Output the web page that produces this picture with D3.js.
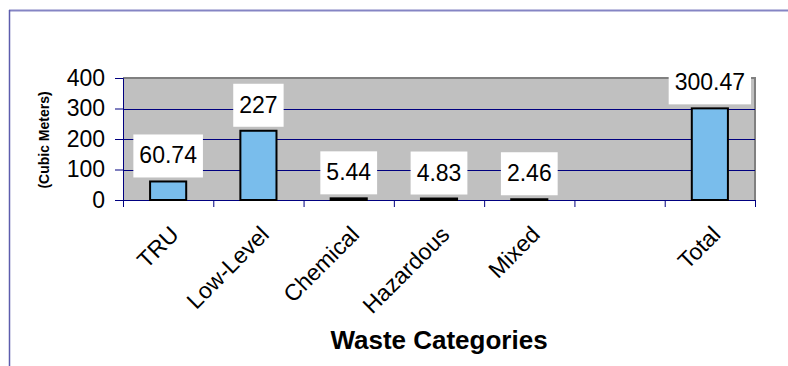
<!DOCTYPE html>
<html>
<head>
<meta charset="utf-8">
<script src="https://cdn.jsdelivr.net/npm/d3@7/dist/d3.min.js"></script>
<style>
  body { margin: 0; background: #fff; }
  svg { display: block; font-family: "Liberation Sans", Arial, sans-serif; }
</style>
</head>
<body>
<svg id="chart" width="788" height="366"></svg>
<script>
// data
const categories = ["TRU", "Low-Level", "Chemical", "Hazardous", "Mixed", "", "Total"];
const volumes = [60.74, 227, 5.44, 4.83, 2.46, null, 300.47];
const valueLabels = ["60.74", "227", "5.44", "4.83", "2.46", "", "300.47"];
const yTicks = [0, 100, 200, 300, 400];

const pl = 123, pr = 755, pt = 78, pb = 200;

const svg = d3.select("#chart");

// scales
const xScale = d3.scaleBand().domain(d3.range(categories.length)).range([pl, pr]).padding(0);
const xEdge = d3.scaleLinear().domain([0, categories.length]).range([pl, pr]);
const yScale = d3.scaleLinear().domain([0, 400]).range([pb, pt]);

// outer chart border (only top + left visible)
svg.append("line").attr("x1", 9).attr("x2", 788).attr("y1", 10.5).attr("y2", 10.5)
  .attr("stroke", "#8585c4").attr("stroke-width", 2);
svg.append("line").attr("x1", 9.5).attr("x2", 9.5).attr("y1", 10).attr("y2", 366)
  .attr("stroke", "#5c5cad").attr("stroke-width", 1.5);

// plot area
svg.append("rect").attr("x", pl).attr("y", pt).attr("width", pr - pl).attr("height", pb - pt)
  .attr("fill", "#c0c0c0");
svg.append("path").attr("d", `M${pl},${pt}H${pr}V${pb}`)
  .attr("fill", "none").attr("stroke", "#808080").attr("stroke-width", 2);

// grid lines
svg.append("g").selectAll("line").data(yTicks.filter(d => d > 0 && d < 400)).join("line")
  .attr("x1", pl).attr("x2", pr)
  .attr("y1", d => Math.round(yScale(d)) + 0.5).attr("y2", d => Math.round(yScale(d)) + 0.5)
  .attr("stroke", "#000080").attr("stroke-width", 1);

// y axis
const yaxis = d3.axisLeft(yScale).tickValues(yTicks).tickSize(8).tickPadding(10);
const ygrp = svg.append("g").attr("transform", `translate(${pl},0)`).call(yaxis);
ygrp.select(".domain").attr("stroke", "#000080");
ygrp.selectAll(".tick line").attr("stroke", "#000080");
ygrp.selectAll("text").attr("font-size", 23).attr("fill", "#000")
  .attr("font-family", "Liberation Sans, Arial, sans-serif");

// x axis (ticks at category boundaries)
const xaxis = d3.axisBottom(xEdge).tickValues(d3.range(categories.length + 1)).tickSize(7).tickFormat("");
const xgrp = svg.append("g").attr("transform", `translate(0,${pb})`).call(xaxis);
xgrp.select(".domain").attr("stroke", "#000080");
xgrp.selectAll(".tick line").attr("stroke", "#000080");

// bars
const barW = xScale.bandwidth() * 0.4;
const bars = categories.map((c, i) => ({ i, v: volumes[i], label: valueLabels[i] })).filter(d => d.v != null);
svg.append("g").selectAll("rect").data(bars).join("rect")
  .attr("x", d => xScale(d.i) + (xScale.bandwidth() - barW) / 2)
  .attr("width", barW)
  .attr("y", d => yScale(d.v))
  .attr("height", d => pb - yScale(d.v))
  .attr("fill", "#79bdec").attr("stroke", "#000").attr("stroke-width", 2);

// data labels
const lab = svg.append("g").selectAll("g").data(bars).join("g")
  .attr("transform", d => `translate(${xScale(d.i) + xScale.bandwidth() / 2},${yScale(d.v) - 18})`);
lab.append("rect").attr("fill", "#fff");
lab.append("text").attr("text-anchor", "middle").attr("font-size", 23).attr("fill", "#000")
  .text(d => d.label);
lab.each(function () {
  const g = d3.select(this);
  const w = g.select("text").node().getComputedTextLength();
  g.select("rect").attr("x", -w / 2 - 6).attr("width", w + 12).attr("y", -29).attr("height", 43);
});

// category labels
svg.append("g").selectAll("text").data(categories).join("text")
  .attr("transform", (d, i) => `translate(${xScale(i) + xScale.bandwidth() / 2 + 12},236) rotate(-45)`)
  .attr("text-anchor", "end").attr("font-size", 23).attr("fill", "#000")
  .text(d => d);

// axis titles
svg.append("text").attr("transform", "translate(49,140) rotate(-90)")
  .attr("text-anchor", "middle").attr("font-size", 14).attr("font-weight", "bold")
  .text("(Cubic Meters)");
svg.append("text").attr("x", (pl + pr) / 2).attr("y", 349)
  .attr("text-anchor", "middle").attr("font-size", 26).attr("font-weight", "bold")
  .text("Waste Categories");
</script>
</body>
</html>
